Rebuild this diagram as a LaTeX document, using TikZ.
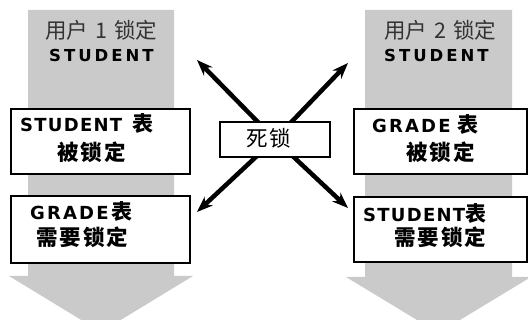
\documentclass[tikz,border=0pt]{standalone}
\usepackage{fontspec}
\newfontfamily\cjk{Noto Sans CJK SC}
\newfontfamily\lat{DejaVu Sans}
\usetikzlibrary{arrows.meta}
\pgfdeclarelayer{bg}
\pgfsetlayers{bg,main}
\definecolor{shaft}{RGB}{202,202,202}
\newcommand\cj[1]{{\cjk\bfseries\fontsize{21}{21}\selectfont\addfontfeature{LetterSpace=8}#1}}
\tikzset{
  box/.style={draw=black, line width=1.6pt, fill=white, inner sep=0pt, anchor=north west},
  cjktxt/.style={inner sep=0pt, anchor=base west, font=\cjk\bfseries\fontsize{21.5}{21.5}\selectfont\addfontfeature{LetterSpace=9}},
  headcjk/.style={inner sep=0pt, anchor=base west, text=black!80, font=\cjk\fontsize{21.5}{21.5}\selectfont},
  lattxt/.style={inner sep=0pt, anchor=base west, font=\lat\bfseries\fontsize{18}{18}\selectfont\addfontfeature{LetterSpace=7}},
  headlat/.style={inner sep=0pt, anchor=base west, font=\lat\bfseries\fontsize{16.5}{16.5}\selectfont\addfontfeature{LetterSpace=18}},
  conn/.style={line width=4.5pt, -{Stealth[length=16pt,width=12pt]}},
}
\begin{document}
\begin{tikzpicture}[x=1pt,y=-1pt]
\useasboundingbox (0,0) rectangle (528,320);
\begin{pgfonlayer}{bg}
  \begin{scope}
    \clip (0,0) rectangle (528,320);
    \fill[shaft] (28,10) -- (174,10) -- (174,276) -- (193,276) -- (101,332) -- (9,276) -- (28,276) -- cycle;
    \fill[shaft] (365,10) -- (512,10) -- (512,277) -- (531,277) -- (438.5,333) -- (346,277) -- (365,277) -- cycle;
  \end{scope}
\end{pgfonlayer}

% headers
\node[headcjk] (h1a) at (45,38.5) {用户\kern7pt 1\kern7pt 锁定};
\node[headlat] (h1b) at (49,62) {STUDENT};
\node[headcjk] (h2a) at (384,38.5) {用户\kern7pt 2\kern7pt 锁定};
\node[headlat] (h2b) at (384,62) {STUDENT};

% boxes
\node[box, minimum width=179pt, minimum height=65pt] (lt) at (10,108) {};
\node[box, minimum width=179pt, minimum height=67pt] (lb) at (10,195) {};
\node[box, minimum width=173pt, minimum height=65pt] (rt) at (353,108) {};
\node[box, minimum width=173pt, minimum height=65pt] (rb) at (353,196) {};

\node[lattxt] (lt1) at (20,132) {STUDENT\kern10pt\cj{表}};
\node[cjktxt] (lt2) at (57,160.5) {被锁定};
\node[lattxt, font=\lat\bfseries\fontsize{18}{18}\selectfont\addfontfeature{LetterSpace=12}] (lb1) at (30,220) {GRADE\kern3pt\cj{表}};
\node[cjktxt] (lb2) at (36,245.5) {需要锁定};
\node[lattxt, font=\lat\bfseries\fontsize{18}{18}\selectfont\addfontfeature{LetterSpace=12}] (rt1) at (372,133) {GRADE\kern7pt\cj{表}};
\node[cjktxt] (rt2) at (406,160.5) {被锁定};
\node[lattxt] (rb1) at (363,222) {STUDENT\cj{表}};
\node[cjktxt] (rb2) at (394,245.5) {需要锁定};

% deadlock
\coordinate (ul) at (197,60);
\coordinate (ur) at (348,63);
\coordinate (ll) at (197,212);
\coordinate (lr) at (348,208);
\node[box, minimum width=110pt, minimum height=35pt] (dl) at (219,121) {};
\node[cjktxt, font=\cjk\fontsize{21.5}{21.5}\selectfont\addfontfeature{LetterSpace=9}] (dlt) at (246,146.5) {死锁};
\begin{pgfonlayer}{bg}
  \draw[conn] (dl.center) -- (ul);
  \draw[conn] (dl.center) -- (ur);
  \draw[conn] (dl.center) -- (ll);
  \draw[conn] (dl.center) -- (lr);
\end{pgfonlayer}
\end{tikzpicture}
\end{document}
